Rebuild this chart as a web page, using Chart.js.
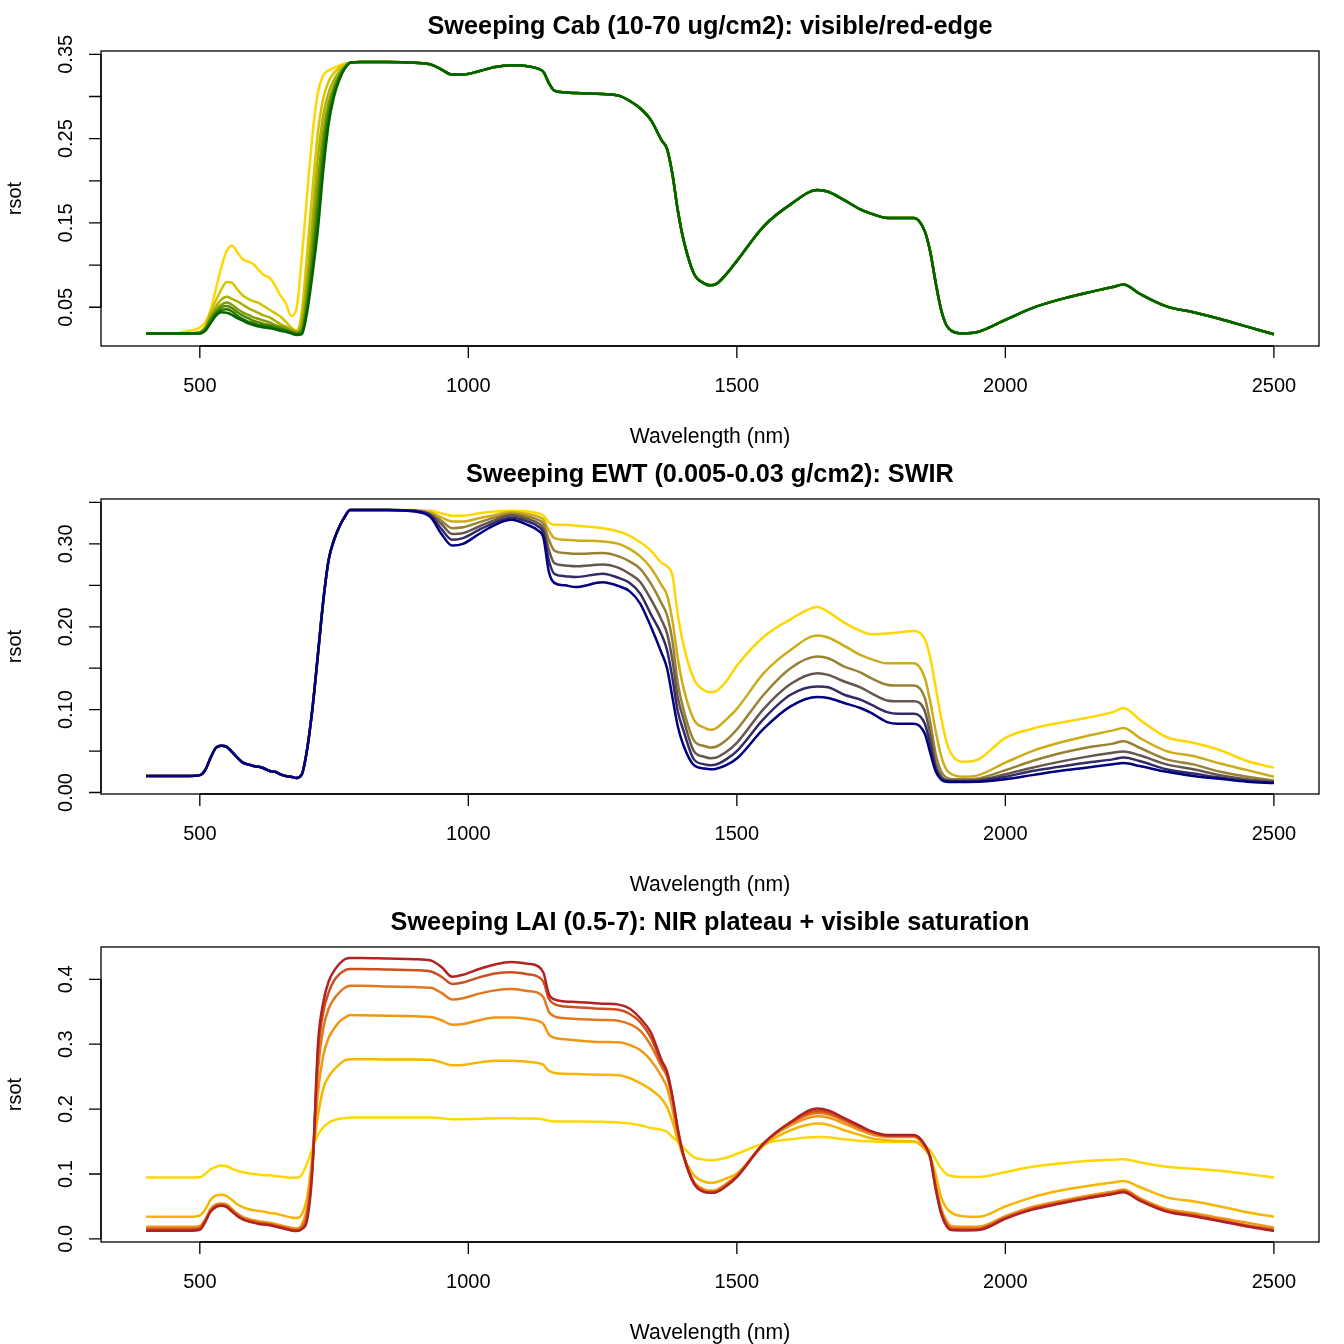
<!DOCTYPE html>
<html>
<head>
<meta charset="utf-8">
<script src="https://cdn.jsdelivr.net/npm/chart.js@4.4.1/dist/chart.umd.min.js"></script>
<style>
html,body{margin:0;padding:0;background:#ffffff;}
canvas{display:block;}
</style>
</head>
<body>
<canvas id="c1" width="1344" height="448"></canvas>
<canvas id="c2" width="1344" height="448"></canvas>
<canvas id="c3" width="1344" height="448"></canvas>
<script>
// ---------- wavelength grids (nm) ----------
const wlVis = [400,450,480,500,510,520,530,540,550,560,570,580,590,600,610,620,630,640,650,660,670,680,690,700,710,720,730,740,750,760,770,780];
const wlNir = [800,850,900,930,950,970,990,1020,1050,1080,1110,1130,1140,1150,1160,1180,1200,1250,1280,1300,1320,1340,1360,1370,1380,1390,1400,1420,1440,1450,1460,1480,1500,1550,1600,1650,1670,1700,1730,1750,1780,1800,1830,1850,1860,1870,1880,1890,1900,1920,1950,2000,2050,2100,2150,2200,2220,2250,2300,2350,2400,2450,2500];

// ---------- axis ticks ----------
const xTickVals = [500,1000,1500,2000,2500];
const xTickLabels = ["500","1000","1500","2000","2500"];
const yTicks1 = [0.05,0.10,0.15,0.20,0.25,0.30,0.35];
const yLabels1 = ["0.05","","0.15","","0.25","","0.35"];
const yTicks2 = [0.00,0.05,0.10,0.15,0.20,0.25,0.30,0.35];
const yLabels2 = ["0.00","","0.10","","0.20","","0.30",""];
const yTicks3 = [0.0,0.1,0.2,0.3,0.4];
const yLabels3 = ["0.0","0.1","0.2","0.3","0.4"];

// ---------- Panel 1: Cab sweep (visible part per series, shared NIR/SWIR part) ----------
const cab10Vis = [0.019,0.019,0.022,0.026, 0.032,0.046,0.072,0.097,0.117,0.123, 0.115,0.107,0.104,0.101,0.094,0.088, 0.085,0.076,0.064,0.055,0.040,0.048, 0.110,0.185,0.256,0.305,0.325,0.331, 0.334,0.337,0.339,0.340];
const cab20Vis = [0.019,0.019,0.019,0.021, 0.027,0.045,0.058,0.071,0.080,0.079, 0.071,0.064,0.060,0.057,0.055,0.051, 0.047,0.043,0.039,0.033,0.026,0.022, 0.045,0.115,0.190,0.258,0.298,0.318, 0.328,0.334,0.338,0.340];
const cab30Vis = [0.019,0.019,0.019,0.020, 0.026,0.040,0.051,0.059,0.0625,0.060, 0.057,0.053,0.049,0.046,0.043,0.040, 0.038,0.034,0.030,0.027,0.024,0.021, 0.032,0.085,0.155,0.228,0.278,0.305, 0.320,0.330,0.336,0.340];
const cab40Vis = [0.019,0.019,0.019,0.020, 0.025,0.037,0.047,0.053,0.0555,0.053, 0.048,0.044,0.041,0.038,0.036,0.034, 0.032,0.029,0.027,0.025,0.022,0.020, 0.026,0.068,0.130,0.200,0.258,0.293, 0.313,0.326,0.335,0.340];
const cab50Vis = [0.019,0.019,0.019,0.019, 0.024,0.035,0.044,0.050,0.0515,0.049, 0.044,0.040,0.037,0.034,0.032,0.030, 0.029,0.027,0.025,0.023,0.021,0.019, 0.022,0.058,0.112,0.178,0.243,0.284, 0.308,0.324,0.334,0.340];
const cab60Vis = [0.019,0.019,0.019,0.019, 0.023,0.033,0.042,0.047,0.0475,0.045, 0.040,0.036,0.033,0.031,0.029,0.028, 0.027,0.025,0.024,0.022,0.020,0.018, 0.020,0.050,0.100,0.160,0.228,0.276, 0.304,0.322,0.334,0.340];
const cab70Vis = [0.019,0.019,0.019,0.019, 0.022,0.031,0.040,0.044,0.0435,0.041, 0.037,0.034,0.031,0.029,0.027,0.026, 0.025,0.024,0.022,0.021,0.019,0.017, 0.018,0.045,0.090,0.143,0.213,0.268, 0.300,0.320,0.333,0.340];
const cabNir = [0.341,0.341,0.340,0.338,0.332, 0.326,0.326,0.330,0.335,0.337, 0.336,0.333,0.329,0.316,0.307, 0.305,0.304,0.303,0.301,0.295, 0.286,0.272,0.248,0.238,0.208, 0.165,0.132,0.090,0.078,0.076, 0.077,0.089,0.105,0.146,0.172, 0.189,0.187,0.177,0.166,0.161, 0.156,0.156,0.156,0.140,0.116, 0.080,0.048,0.029,0.022,0.019, 0.021,0.035,0.049,0.059,0.067, 0.074,0.077,0.066,0.051,0.044, 0.036,0.027,0.018];
const cabNames = ["Cab 10","Cab 20","Cab 30","Cab 40","Cab 50","Cab 60","Cab 70"];
const cabColors = ["#FFD700","#D5C400","#AAB100","#809E00","#558A00","#2B7700","#006400"];

// ---------- Panel 2: EWT sweep (shared visible part, NIR/SWIR per series) ----------
const ewtVis = [0.020,0.020,0.020,0.021, 0.027,0.042,0.054,0.0565,0.055,0.049, 0.042,0.036,0.034,0.032,0.031,0.029, 0.026,0.025,0.022,0.020,0.019,0.0175, 0.022,0.053,0.103,0.167,0.232,0.281, 0.305,0.321,0.333,0.341];
const ewt005Nir = [0.341,0.341,0.341,0.340,0.337, 0.334,0.334,0.337,0.339,0.340, 0.339,0.337,0.334,0.326,0.323, 0.323,0.322,0.319,0.315,0.310, 0.302,0.292,0.277,0.273,0.262, 0.215,0.180,0.137,0.123,0.121, 0.122,0.134,0.153,0.188,0.209, 0.224,0.218,0.205,0.195,0.191, 0.192,0.193,0.195,0.185,0.163, 0.128,0.092,0.062,0.046,0.037, 0.040,0.066,0.077,0.084,0.090, 0.097,0.102,0.088,0.067,0.060, 0.051,0.038,0.030];
const ewt010Nir = [0.341,0.341,0.340,0.338,0.332, 0.327,0.327,0.331,0.335,0.3385, 0.336,0.333,0.329,0.316,0.307, 0.305,0.304,0.303,0.300,0.294, 0.285,0.271,0.250,0.238,0.208, 0.162,0.128,0.088,0.078,0.0757, 0.077,0.088,0.101,0.144,0.172, 0.1896,0.187,0.177,0.166,0.161, 0.156,0.156,0.156,0.138,0.110, 0.075,0.045,0.028,0.022,0.019, 0.021,0.036,0.050,0.060,0.068, 0.075,0.078,0.066,0.050,0.044, 0.035,0.027,0.019];
const ewt015Nir = [0.341,0.341,0.340,0.336,0.328, 0.319,0.320,0.326,0.332,0.3365, 0.333,0.329,0.324,0.305,0.292, 0.289,0.288,0.289,0.285,0.279, 0.270,0.252,0.228,0.214,0.183, 0.132,0.102,0.063,0.056,0.0544, 0.055,0.063,0.076,0.118,0.150, 0.164,0.162,0.152,0.145,0.138, 0.130,0.129,0.129,0.114,0.085, 0.047,0.026,0.018,0.016,0.016, 0.017,0.027,0.038,0.047,0.054, 0.059,0.062,0.054,0.040,0.034, 0.025,0.019,0.0145];
const ewt020Nir = [0.341,0.341,0.340,0.335,0.324, 0.312,0.313,0.321,0.329,0.3345, 0.330,0.325,0.318,0.293,0.277, 0.274,0.273,0.275,0.271,0.264, 0.254,0.233,0.208,0.192,0.160, 0.115,0.090,0.050,0.043,0.0415, 0.042,0.049,0.060,0.101,0.131, 0.144,0.142,0.134,0.127,0.120, 0.111,0.110,0.110,0.098,0.070, 0.035,0.020,0.015,0.0145,0.0145, 0.015,0.022,0.030,0.037,0.043, 0.048,0.0495,0.045,0.034,0.028, 0.021,0.016,0.013];
const ewt025Nir = [0.341,0.341,0.340,0.334,0.318, 0.305,0.307,0.317,0.326,0.332, 0.327,0.321,0.313,0.280,0.264, 0.261,0.260,0.264,0.259,0.253, 0.240,0.215,0.190,0.172,0.138, 0.098,0.076,0.040,0.034,0.033, 0.0335,0.040,0.050,0.089,0.118, 0.128,0.127,0.118,0.112,0.106, 0.097,0.095,0.095,0.083,0.058, 0.029,0.017,0.014,0.0135,0.0135, 0.014,0.019,0.026,0.031,0.036, 0.040,0.0423,0.038,0.028,0.023, 0.018,0.014,0.012];
const ewt030Nir = [0.341,0.341,0.339,0.332,0.312, 0.298,0.300,0.312,0.323,0.329, 0.323,0.316,0.307,0.266,0.253, 0.250,0.248,0.2536,0.249,0.243, 0.228,0.200,0.168,0.150,0.115, 0.080,0.058,0.033,0.029,0.0282, 0.0285,0.033,0.041,0.077,0.104, 0.1152,0.114,0.108,0.102,0.096, 0.085,0.083,0.083,0.071,0.048, 0.026,0.016,0.013,0.0128,0.0128, 0.013,0.016,0.021,0.026,0.030, 0.034,0.0355,0.032,0.025,0.020, 0.0165,0.013,0.0114];
const ewtNames = ["EWT 0.005","EWT 0.01","EWT 0.015","EWT 0.02","EWT 0.025","EWT 0.03"];
const ewtColors = ["#FFD700","#CCAC1A","#998133","#66564D","#332B66","#000080"];

// ---------- Panel 3: LAI sweep ----------
const lai05Vis = [0.0945,0.0945,0.0945,0.095, 0.100,0.107,0.111,0.113,0.112,0.108, 0.105,0.103,0.101,0.100,0.099,0.098, 0.098,0.097,0.096,0.095,0.094,0.094, 0.099,0.117,0.140,0.160,0.172,0.179, 0.183,0.185,0.186,0.187];
const lai1Vis = [0.034,0.034,0.034,0.036, 0.045,0.060,0.067,0.068,0.066,0.060, 0.053,0.049,0.046,0.044,0.043,0.042, 0.040,0.039,0.037,0.035,0.033,0.032, 0.038,0.065,0.130,0.190,0.232,0.250, 0.261,0.269,0.275,0.277];
const lai2Vis = [0.0185,0.0185,0.0185,0.020, 0.030,0.046,0.053,0.0545,0.053,0.046, 0.039,0.034,0.031,0.029,0.027,0.026, 0.025,0.023,0.021,0.019,0.017,0.016, 0.022,0.050,0.125,0.225,0.283,0.310, 0.324,0.335,0.341,0.345];
const lai3Vis = [0.016,0.016,0.016,0.0175, 0.028,0.044,0.051,0.053,0.051,0.044, 0.037,0.032,0.029,0.027,0.025,0.024, 0.023,0.021,0.019,0.017,0.015,0.014, 0.018,0.040,0.120,0.260,0.325,0.355, 0.370,0.380,0.387,0.390];
const lai5Vis = [0.0145,0.0145,0.0145,0.016, 0.027,0.043,0.050,0.052,0.050,0.043, 0.036,0.031,0.028,0.026,0.024,0.023, 0.022,0.020,0.018,0.016,0.014,0.013, 0.016,0.035,0.115,0.285,0.350,0.380, 0.398,0.408,0.414,0.416];
const lai7Vis = [0.0125,0.0125,0.0125,0.014, 0.026,0.042,0.049,0.051,0.049,0.042, 0.035,0.030,0.027,0.025,0.023,0.022, 0.021,0.019,0.017,0.015,0.013,0.012, 0.015,0.030,0.110,0.300,0.365,0.397, 0.413,0.424,0.431,0.433];
const lai05Nir = [0.187,0.187,0.187,0.187,0.186, 0.1845,0.1845,0.185,0.186,0.186, 0.1855,0.185,0.184,0.182,0.181, 0.181,0.181,0.1805,0.1795,0.178, 0.175,0.171,0.168,0.165,0.157, 0.150,0.141,0.126,0.122,0.121, 0.1215,0.125,0.131,0.147,0.1535, 0.157,0.1565,0.1535,0.151,0.150, 0.1494,0.1494,0.1494,0.143,0.1366, 0.123,0.109,0.100,0.097,0.0955, 0.0955,0.103,0.111,0.116,0.120, 0.122,0.1227,0.118,0.111,0.108, 0.105,0.100,0.0945];
const lai1Nir = [0.277,0.2765,0.2765,0.276,0.272, 0.2675,0.268,0.272,0.2745,0.2747, 0.273,0.271,0.268,0.259,0.2557, 0.2545,0.254,0.253,0.252,0.248, 0.240,0.230,0.216,0.203,0.181, 0.152,0.128,0.098,0.088,0.0863, 0.087,0.093,0.1007,0.144,0.1674, 0.1777,0.176,0.1674,0.160,0.155, 0.152,0.151,0.1504,0.138,0.1263, 0.100,0.065,0.048,0.040,0.035, 0.034,0.050,0.064,0.074,0.081, 0.087,0.089,0.080,0.064,0.058, 0.050,0.041,0.034];
const lai2Nir = [0.3445,0.344,0.343,0.342,0.337, 0.330,0.331,0.337,0.341,0.341, 0.339,0.336,0.331,0.315,0.310, 0.3075,0.306,0.3035,0.303,0.299, 0.291,0.275,0.250,0.233,0.200, 0.160,0.128,0.088,0.076,0.0745, 0.075,0.085,0.098,0.147,0.175, 0.189,0.187,0.1777,0.167,0.161, 0.157,0.157,0.157,0.142,0.126, 0.085,0.048,0.028,0.0195,0.0185, 0.0185,0.035,0.049,0.058,0.066, 0.073,0.076,0.063,0.046,0.040, 0.032,0.025,0.0175];
const lai3Nir = [0.390,0.389,0.388,0.387,0.379, 0.369,0.371,0.378,0.383,0.385, 0.382,0.379,0.372,0.350,0.343, 0.340,0.339,0.3375,0.336,0.331, 0.321,0.298,0.265,0.250,0.215, 0.165,0.130,0.087,0.0735,0.0725, 0.073,0.083,0.097,0.147,0.178, 0.194,0.192,0.182,0.170,0.164, 0.158,0.158,0.158,0.143,0.126, 0.082,0.044,0.024,0.0165,0.016, 0.016,0.033,0.047,0.056,0.064, 0.071,0.074,0.061,0.044,0.037, 0.029,0.021,0.0145];
const lai5Nir = [0.416,0.415,0.414,0.412,0.404, 0.393,0.395,0.403,0.409,0.411, 0.408,0.404,0.396,0.370,0.362, 0.358,0.357,0.3545,0.353,0.347, 0.334,0.310,0.270,0.254,0.218, 0.168,0.131,0.086,0.0725,0.0715, 0.072,0.082,0.096,0.147,0.179, 0.197,0.195,0.184,0.172,0.165, 0.159,0.159,0.159,0.144,0.126, 0.080,0.042,0.022,0.015,0.0145, 0.0148,0.032,0.046,0.055,0.063, 0.070,0.073,0.060,0.043,0.036, 0.028,0.020,0.013];
const lai7Nir = [0.433,0.432,0.431,0.429,0.419, 0.404,0.407,0.416,0.423,0.4266, 0.424,0.420,0.410,0.377,0.369, 0.366,0.365,0.3625,0.361,0.355, 0.340,0.318,0.275,0.258,0.220, 0.170,0.131,0.085,0.072,0.071, 0.0715,0.081,0.095,0.147,0.180, 0.2008,0.198,0.186,0.174,0.166, 0.160,0.160,0.160,0.145,0.126, 0.078,0.040,0.020,0.0135,0.013, 0.0135,0.031,0.045,0.054,0.062, 0.069,0.072,0.059,0.042,0.035, 0.027,0.019,0.012];
const laiNames = ["LAI 0.5","LAI 1","LAI 2","LAI 3","LAI 5","LAI 7"];
const laiColors = ["#FFD700","#F7B500","#EF9715","#E3771D","#CD4E20","#B22222"];

// ---------- helpers ----------
const wavelength = wlVis.concat(wlNir);
const FONT = '"Liberation Sans", Arial, Helvetica, sans-serif';

function toPoints(vals) { return wavelength.map((w, i) => ({ x: w, y: vals[i] })); }

function rLimits(list) {
  let lo = Infinity, hi = -Infinity;
  list.forEach(s => s.forEach(v => { if (v < lo) lo = v; if (v > hi) hi = v; }));
  const d = (hi - lo) * 0.04;
  return [lo - d, hi + d];
}

function makePanel(id, title, seriesList, names, colors, yTicks, yLabels) {
  const lim = rLimits(seriesList);
  const xs = [Math.min(...wavelength), Math.max(...wavelength)];
  const xd = (xs[1] - xs[0]) * 0.04;
  const n = seriesList.length;
  const datasets = seriesList.map((s, i) => ({
    label: names[i],
    data: toPoints(s),
    borderColor: colors[i],
    backgroundColor: colors[i],
    borderWidth: 2.5,
    pointRadius: 0,
    fill: false,
    cubicInterpolationMode: 'monotone',
    order: n - i
  }));
  const rAxes = {
    id: 'rAxes' + id,
    afterDraw(chart) {
      const ctx = chart.ctx, a = chart.chartArea;
      const sx = chart.scales.x, sy = chart.scales.y;
      ctx.save();
      ctx.strokeStyle = '#000';
      ctx.fillStyle = '#000';
      ctx.lineWidth = 1.3;
      ctx.strokeRect(a.left, a.top, a.right - a.left, a.bottom - a.top);
      ctx.beginPath();
      const xa = sx.getPixelForValue(xTickVals[0]), xb = sx.getPixelForValue(xTickVals[xTickVals.length - 1]);
      ctx.moveTo(xa, a.bottom); ctx.lineTo(xb, a.bottom);
      xTickVals.forEach(v => { const p = sx.getPixelForValue(v); ctx.moveTo(p, a.bottom); ctx.lineTo(p, a.bottom + 12); });
      const ya = sy.getPixelForValue(yTicks[0]), yb = sy.getPixelForValue(yTicks[yTicks.length - 1]);
      ctx.moveTo(a.left, ya); ctx.lineTo(a.left, yb);
      yTicks.forEach(v => { const p = sy.getPixelForValue(v); ctx.moveTo(a.left, p); ctx.lineTo(a.left - 12, p); });
      ctx.stroke();
      // x tick labels
      ctx.font = '20px ' + FONT;
      ctx.textAlign = 'center';
      ctx.textBaseline = 'alphabetic';
      xTickVals.forEach((v, i) => ctx.fillText(xTickLabels[i], sx.getPixelForValue(v), a.bottom + 46));
      // y tick labels (rotated)
      yTicks.forEach((v, i) => {
        if (!yLabels[i]) return;
        ctx.save();
        ctx.translate(a.left - 29.5, sy.getPixelForValue(v));
        ctx.rotate(-Math.PI / 2);
        ctx.fillText(yLabels[i], 0, 0);
        ctx.restore();
      });
      // y axis title
      ctx.save();
      ctx.translate(a.left - 80.5, (a.top + a.bottom) / 2);
      ctx.rotate(-Math.PI / 2);
      ctx.fillText('rsot', 0, 0);
      ctx.restore();
      // x axis title
      const cx = (a.left + a.right) / 2;
      ctx.font = '21.2px ' + FONT;
      ctx.fillText('Wavelength (nm)', cx, a.bottom + 97);
      // main title
      ctx.font = 'bold 25.3px ' + FONT;
      ctx.fillText(title, cx, a.top - 17);
      ctx.restore();
    }
  };
  return new Chart(document.getElementById(id), {
    type: 'line',
    data: { datasets },
    options: {
      responsive: false,
      animation: false,
      layout: { padding: { left: 101, right: 25, top: 51, bottom: 102 } },
      plugins: { legend: { display: false }, tooltip: { enabled: false }, title: { display: false } },
      scales: {
        x: { type: 'linear', min: xs[0] - xd, max: xs[1] + xd, display: false },
        y: { type: 'linear', min: lim[0], max: lim[1], display: false }
      }
    },
    plugins: [rAxes]
  });
}

makePanel('c1', 'Sweeping Cab (10-70 ug/cm2): visible/red-edge',
  [cab10Vis, cab20Vis, cab30Vis, cab40Vis, cab50Vis, cab60Vis, cab70Vis].map(v => v.concat(cabNir)),
  cabNames, cabColors, yTicks1, yLabels1);

makePanel('c2', 'Sweeping EWT (0.005-0.03 g/cm2): SWIR',
  [ewt005Nir, ewt010Nir, ewt015Nir, ewt020Nir, ewt025Nir, ewt030Nir].map(t => ewtVis.concat(t)),
  ewtNames, ewtColors, yTicks2, yLabels2);

makePanel('c3', 'Sweeping LAI (0.5-7): NIR plateau + visible saturation',
  [lai05Vis.concat(lai05Nir), lai1Vis.concat(lai1Nir), lai2Vis.concat(lai2Nir), lai3Vis.concat(lai3Nir), lai5Vis.concat(lai5Nir), lai7Vis.concat(lai7Nir)],
  laiNames, laiColors, yTicks3, yLabels3);
</script>
</body>
</html>
